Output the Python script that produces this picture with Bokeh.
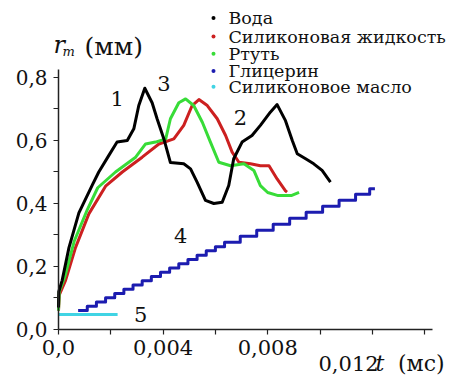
from bokeh.plotting import figure
from bokeh.models import Range1d, FixedTicker, CustomJSTickFormatter, LinearAxis
from bokeh.core.properties import value
from bokeh.embed import file_html
from bokeh.resources import INLINE

# ---- data (t in ms, r_m in mm) ----
water_t = [0.0, 0.00001, 0.00014, 0.0004, 0.00078, 0.0013, 0.00154, 0.00192, 0.00224, 0.00263,
           0.00288, 0.00307, 0.0033, 0.00358, 0.00377, 0.00403, 0.00428, 0.00479, 0.00505, 0.0053,
           0.00562, 0.00594, 0.00626, 0.00651, 0.0067, 0.00702, 0.0074, 0.00772, 0.0081, 0.00836,
           0.00868, 0.00894, 0.00913, 0.00945, 0.00976, 0.01008, 0.0104]
water_r = [0.07, 0.12, 0.156, 0.26, 0.37, 0.46, 0.50, 0.552, 0.595, 0.60,
           0.637, 0.711, 0.766, 0.72, 0.669, 0.605, 0.53, 0.526, 0.51, 0.468,
           0.41, 0.40, 0.404, 0.457, 0.542, 0.595, 0.616, 0.648, 0.69, 0.714,
           0.663, 0.60, 0.558, 0.542, 0.526, 0.505, 0.468]

silliq_t = [0.0, 0.00003, 0.00027, 0.00065, 0.00116, 0.0018, 0.00244, 0.0032, 0.00384, 0.00441,
            0.00479, 0.00511, 0.00537, 0.00569, 0.00607, 0.00639, 0.00664, 0.0069, 0.00734, 0.00772,
            0.00805, 0.00836, 0.00868, 0.00874]
silliq_r = [0.06, 0.11, 0.156, 0.26, 0.367, 0.455, 0.50, 0.547, 0.589, 0.605,
            0.648, 0.711, 0.73, 0.711, 0.669, 0.616, 0.563, 0.531, 0.526, 0.52,
            0.52, 0.478, 0.44, 0.436]

mercury_t = [0.0, 0.00003, 0.00025, 0.0006, 0.0011, 0.0015, 0.00218, 0.00295, 0.00333, 0.00371,
             0.0041, 0.00428, 0.0046, 0.00486, 0.00517, 0.0055, 0.00581, 0.00613, 0.00658, 0.00709,
             0.00747, 0.00772, 0.008, 0.0084, 0.0089, 0.0092]
mercury_r = [0.06, 0.12, 0.17, 0.28, 0.38, 0.45, 0.50, 0.547, 0.589, 0.595,
             0.605, 0.669, 0.72, 0.732, 0.711, 0.658, 0.595, 0.531, 0.52, 0.526,
             0.505, 0.457, 0.435, 0.425, 0.425, 0.435]

glyc_t = [0.00075, 0.0011, 0.00145, 0.0018, 0.00215, 0.0025, 0.00285, 0.0032, 0.00355, 0.0039,
          0.00425, 0.0046, 0.00495, 0.0053, 0.00565, 0.006, 0.00635, 0.00695, 0.00758, 0.00821,
          0.00884, 0.00947, 0.0101, 0.01073, 0.01136, 0.0119, 0.0121]
glyc_r = [0.06, 0.074, 0.087, 0.101, 0.114, 0.128, 0.141, 0.155, 0.168, 0.182,
          0.195, 0.209, 0.222, 0.236, 0.25, 0.263, 0.277, 0.296, 0.315, 0.334,
          0.353, 0.372, 0.391, 0.41, 0.429, 0.447, 0.447]

siloil_t = [0.0, 0.00226]
siloil_r = [0.048, 0.048]

series_names = ["Вода", "Силиконовая жидкость", "Ртуть", "Глицерин", "Силиконовое масло"]
series_colors = ["#000000", "#cc2020", "#38dc38", "#1c1cb0", "#40d4e4"]

curve_tags = ["1", "2", "3", "4", "5"]
tag_t = [0.00224, 0.00696, 0.00403, 0.00467, 0.00314]
tag_r = [0.733, 0.674, 0.780, 0.298, 0.049]

x_major = [0.0, 0.004, 0.008]
x_minor = [0.002, 0.006, 0.010, 0.012, 0.014]
y_major = [0.0, 0.2, 0.4, 0.6, 0.8]
y_minor = [0.1, 0.3, 0.5, 0.7]

SERIF = "DejaVu Serif"
INK = "#111111"

p = figure(width=457, height=376, output_backend="svg", toolbar_location=None,
           x_range=Range1d(-0.002218, 0.015258), y_range=Range1d(-0.14921, 1.04444),
           x_axis_location=None, y_axis_location=None,
           min_border_left=0, min_border_bottom=0, min_border_top=0, min_border_right=0)
p.outline_line_color = None
p.xgrid.visible = False
p.ygrid.visible = False
p.background_fill_color = "white"
p.border_fill_color = "white"

xax = LinearAxis(fixed_location=0)
yax = LinearAxis(fixed_location=0)
p.add_layout(xax, "below")
p.add_layout(yax, "left")

for ax in (xax, yax):
    ax.axis_line_color = "#222222"
    ax.axis_line_width = 1.5
    ax.major_tick_line_color = "#222222"
    ax.minor_tick_line_color = "#222222"
    ax.major_tick_line_width = 1.2
    ax.minor_tick_line_width = 1.2
    ax.major_tick_in = 0
    ax.major_tick_out = 5
    ax.minor_tick_in = 0
    ax.minor_tick_out = 5
    ax.major_label_text_font = SERIF
    ax.major_label_text_color = INK

xax.major_label_text_font_size = "21px"
yax.major_label_text_font_size = "20px"
xax.ticker = FixedTicker(ticks=x_major, minor_ticks=x_minor)
yax.ticker = FixedTicker(ticks=y_major, minor_ticks=y_minor)
xax.formatter = CustomJSTickFormatter(
    code='if (tick === 0) { return "0,0"; } return tick.toFixed(3).replace(".", ",");')
yax.formatter = CustomJSTickFormatter(code='return tick.toFixed(1).replace(".", ",");')
xax.bounds = (0, 0.0143)
yax.bounds = (0, 0.825)
xax.major_label_standoff = 6
yax.major_label_standoff = 6

# curves
p.step(glyc_t, glyc_r, mode="after", line_color=series_colors[3], line_width=3, line_join="round")
p.line(siloil_t, siloil_r, line_color=series_colors[4], line_width=3)
p.line(silliq_t, silliq_r, line_color=series_colors[1], line_width=3, line_join="round")
p.line(mercury_t, mercury_r, line_color=series_colors[2], line_width=3, line_join="round")
p.line(water_t, water_r, line_color=series_colors[0], line_width=3, line_join="round")

# curve numbers
p.text(tag_t, tag_r, text=curve_tags, text_font=value(SERIF), text_font_size="21px",
       text_align="center", text_baseline="middle", text_color=INK)

# legend (dots + names)
leg_t = 0.005927
leg_r = [0.989, 0.930, 0.875, 0.821, 0.771]
p.scatter([leg_t] * 5, leg_r, size=4, color=series_colors, line_color=None)
p.text([0.0065] * 5, leg_r, text=series_names, text_font=value(SERIF), text_font_size="17.5px",
       text_align="left", text_baseline="middle", text_color=INK)

# axis titles and the last x tick label
p.text([-0.000191], [0.9016], text=["r"], text_font=value(SERIF), text_font_style="italic",
       text_font_size="24px", text_baseline="alphabetic", text_color=INK)
p.text([0.000153], [0.8825], text=["m"], text_font=value(SERIF), text_font_style="italic",
       text_font_size="13px", text_baseline="alphabetic", text_color=INK)
p.text([0.000994], [0.898], text=["(мм)"], text_font=value(SERIF),
       text_font_size="25px", text_baseline="alphabetic", text_color=INK)
p.text([0.009943], [-0.1079], text=["0,012"], text_font=value(SERIF),
       text_font_size="21px", text_baseline="alphabetic", text_color=INK)
p.text([0.01212], [-0.1079], text=["t"], text_font=value(SERIF), text_font_style="italic",
       text_font_size="22px", text_baseline="alphabetic", text_color=INK)
p.text([0.01298], [-0.1079], text=["(мс)"], text_font=value(SERIF),
       text_font_size="22px", text_baseline="alphabetic", text_color=INK)

open("out.html", "w").write(file_html(p, INLINE))
